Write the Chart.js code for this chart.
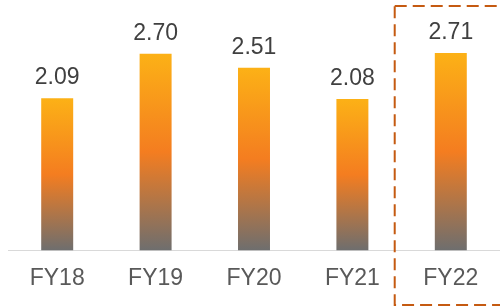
<!DOCTYPE html>
<html>
<head>
<meta charset="utf-8">
<script src="https://cdn.jsdelivr.net/npm/chart.js@4"></script>
<style>
  html, body { margin: 0; padding: 0; background: #fff; }
  #wrap { width: 500px; height: 307px; }
</style>
</head>
<body>
<div id="wrap"><canvas id="chart"></canvas></div>
<script>
const years = ["FY18", "FY19", "FY20", "FY21", "FY22"];
const values = [2.09, 2.70, 2.51, 2.08, 2.71];
const valueLabels = ["2.09", "2.70", "2.51", "2.08", "2.71"];
const highlightIndex = 4;

const barGradient = (ctx) => {
  const chart = ctx.chart;
  const { chartArea, scales } = chart;
  if (!chartArea || ctx.dataIndex === undefined) return "#F58220";
  const top = scales.y.getPixelForValue(values[ctx.dataIndex]);
  const bottom = scales.y.getPixelForValue(0);
  const g = chart.ctx.createLinearGradient(0, top, 0, bottom);
  g.addColorStop(0, "#FCB116");
  g.addColorStop(0.5, "#F47D20");
  g.addColorStop(1, "#6E6E6E");
  return g;
};

const valueLabelPlugin = {
  id: "valueLabels",
  afterDatasetsDraw(chart) {
    const ctx = chart.ctx;
    const meta = chart.getDatasetMeta(0);
    ctx.save();
    ctx.font = "23px 'Liberation Sans', Arial, sans-serif";
    ctx.fillStyle = "#404040";
    ctx.textAlign = "center";
    ctx.textBaseline = "alphabetic";
    meta.data.forEach((bar, i) => {
      ctx.fillText(valueLabels[i], bar.x, bar.y - 14);
    });
    ctx.restore();
  },
};

const highlightPlugin = {
  id: "highlightBox",
  afterDraw(chart) {
    const x = chart.scales.x;
    const step = x.getPixelForValue(1) - x.getPixelForValue(0);
    const cx = x.getPixelForValue(highlightIndex);
    const left = cx - 0.57 * step;
    const right = cx + 0.57 * step;
    const ctx = chart.ctx;
    ctx.save();
    ctx.strokeStyle = "#C55A11";
    ctx.lineWidth = 2;
    ctx.setLineDash([12, 6]);
    ctx.strokeRect(left, 6, right - left, chart.height - 8);
    ctx.restore();
  },
};

new Chart(document.getElementById("chart").getContext("2d"), {
  type: "bar",
  data: {
    labels: years,
    datasets: [
      {
        data: values,
        backgroundColor: barGradient,
        borderWidth: 0,
        categoryPercentage: 1,
        barPercentage: 0.325,
      },
    ],
  },
  options: {
    responsive: true,
    maintainAspectRatio: false,
    animation: false,
    layout: { padding: { left: 8, right: 0, top: 32, bottom: 1 } },
    plugins: { legend: { display: false }, tooltip: { enabled: false } },
    scales: {
      x: {
        grid: { display: false, drawTicks: false },
        border: { display: true, color: "#D9D9D9", width: 1 },
        ticks: {
          padding: 14,
          color: "#595959",
          font: { family: "'Liberation Sans', Arial, sans-serif", size: 23 },
        },
      },
      y: {
        display: false,
        min: 0,
        max: 3,
      },
    },
  },
  plugins: [valueLabelPlugin, highlightPlugin],
});
</script>
</body>
</html>
